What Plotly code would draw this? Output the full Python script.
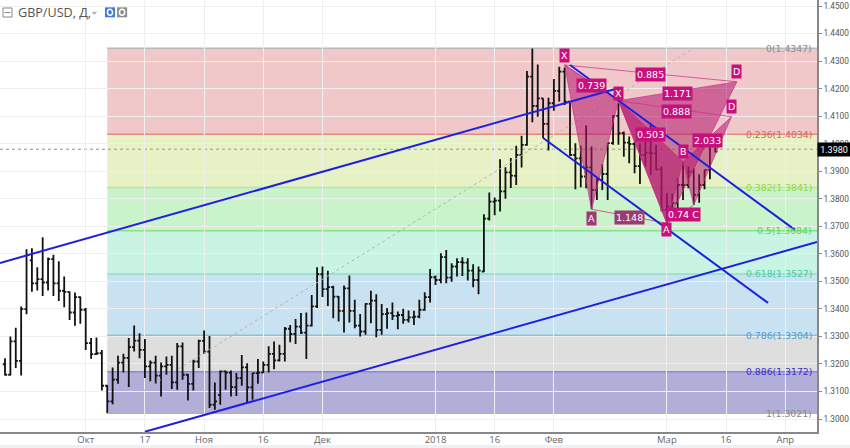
import plotly.graph_objects as go

bar_index = list(range(1, 134))
highs = [1.3221,1.3300,1.3332,1.3409,1.3617,1.3620,1.3551,1.3660,1.3587,1.3597,
1.3573,1.3518,1.3463,1.3460,1.3445,1.3403,1.3294,1.3296,1.3251,1.3124,
1.3187,1.3230,1.3237,1.3294,1.3340,1.3312,1.3291,1.3213,1.3230,1.3205,
1.3227,1.3230,1.3276,1.3278,1.3164,1.3215,1.3288,1.3322,1.3302,1.3133,
1.3176,1.3176,1.3176,1.3167,1.3233,1.3203,1.3167,1.3218,1.3209,1.3264,
1.3282,1.3270,1.3334,1.3342,1.3363,1.3385,1.3387,1.3451,1.3551,1.3554,
1.3539,1.3484,1.3447,1.3485,1.3521,1.3433,1.3382,1.3421,1.3466,1.3453,
1.3418,1.3403,1.3423,1.3391,1.3401,1.3394,1.3393,1.3433,1.3461,1.3545,
1.3521,1.3602,1.3614,1.3566,1.3584,1.3588,1.3584,1.3562,1.3554,1.3744,
1.3823,1.3805,1.3944,1.3915,1.3948,1.3993,1.4029,1.4264,1.4346,1.4288,
1.4165,1.4167,1.4235,1.4280,1.4277,1.4149,1.4002,1.3993,1.4066,1.3990,
1.3875,1.3925,1.4002,1.4104,1.4147,1.4044,1.4026,1.4008,1.4002,1.4008,
1.4071,1.3996,1.3917,1.3820,1.3818,1.3875,1.3935,1.3917,1.3911,1.3889,
1.3905,1.3992,1.3992]
lows = [1.3158,1.3158,1.3185,1.3158,1.3381,1.3462,1.3467,1.3447,1.3467,1.3447,
1.3429,1.3406,1.3360,1.3339,1.3346,1.3251,1.3219,1.3233,1.3104,1.3021,
1.3054,1.3128,1.3169,1.3116,1.3245,1.3221,1.3149,1.3137,1.3128,1.3082,
1.3161,1.3109,1.3106,1.3143,1.3067,1.3104,1.3185,1.3237,1.3040,1.3034,
1.3052,1.3106,1.3082,1.3084,1.3121,1.3060,1.3070,1.3128,1.3167,1.3169,
1.3181,1.3209,1.3209,1.3279,1.3273,1.3309,1.3218,1.3336,1.3403,1.3443,
1.3411,1.3366,1.3354,1.3314,1.3351,1.3330,1.3300,1.3306,1.3348,1.3297,
1.3306,1.3328,1.3360,1.3326,1.3346,1.3351,1.3342,1.3366,1.3393,1.3423,
1.3487,1.3493,1.3493,1.3499,1.3518,1.3520,1.3503,1.3479,1.3453,1.3534,
1.3721,1.3740,1.3754,1.3800,1.3839,1.3850,1.3914,1.3993,1.4078,1.4098,
1.4020,1.3975,1.4120,1.4153,1.4141,1.3956,1.3835,1.3842,1.3838,1.3762,
1.3796,1.3832,1.3796,1.3996,1.3996,1.3953,1.3929,1.3893,1.3854,1.3917,
1.3887,1.3905,1.3754,1.3711,1.3754,1.3760,1.3796,1.3838,1.3778,1.3786,
1.3835,1.3871,1.3968]
opens = [1.3199,1.3161,1.3282,1.3211,1.3399,1.3576,1.3493,1.3508,1.3496,1.3581,
1.3493,1.3466,1.3462,1.3387,1.3443,1.3397,1.3276,1.3236,1.3239,1.3121,
1.3064,1.3143,1.3205,1.3222,1.3261,1.3285,1.3251,1.3191,1.3205,1.3158,
1.3191,1.3197,1.3133,1.3264,1.3161,1.3128,1.3209,1.3284,1.3245,1.3052,
1.3088,1.3173,1.3169,1.3116,1.3149,1.3188,1.3115,1.3167,1.3169,1.3197,
1.3237,1.3213,1.3237,1.3328,1.3309,1.3336,1.3314,1.3339,1.3409,1.3526,
1.3472,1.3479,1.3445,1.3393,1.3475,1.3393,1.3339,1.3318,1.3418,1.3430,
1.3324,1.3381,1.3385,1.3375,1.3378,1.3360,1.3369,1.3372,1.3397,1.3443,
1.3515,1.3505,1.3588,1.3514,1.3554,1.3570,1.3568,1.3539,1.3505,1.3536,
1.3728,1.3790,1.3793,1.3827,1.3896,1.3883,1.3959,1.3996,1.4244,1.4137,
1.4165,1.4072,1.4147,1.4192,1.4262,1.4153,1.3959,1.3947,1.3881,1.3914,
1.3832,1.3869,1.3890,1.4002,1.4101,1.4038,1.4004,1.3999,1.3919,1.3959,
1.3968,1.3965,1.3907,1.3760,1.3772,1.3784,1.3850,1.3850,1.3899,1.3814,
1.3850,1.3905,1.3992]
closes = [1.3161,1.3282,1.3211,1.3399,1.3596,1.3493,1.3508,1.3496,1.3581,1.3493,
1.3466,1.3462,1.3387,1.3443,1.3397,1.3276,1.3236,1.3239,1.3121,1.3064,
1.3143,1.3205,1.3222,1.3261,1.3285,1.3251,1.3191,1.3205,1.3158,1.3191,
1.3197,1.3133,1.3264,1.3161,1.3128,1.3209,1.3284,1.3245,1.3052,1.3064,
1.3173,1.3169,1.3116,1.3149,1.3188,1.3115,1.3167,1.3169,1.3197,1.3237,
1.3213,1.3237,1.3328,1.3309,1.3336,1.3314,1.3339,1.3409,1.3526,1.3472,
1.3479,1.3445,1.3393,1.3475,1.3393,1.3339,1.3318,1.3418,1.3430,1.3324,
1.3381,1.3385,1.3375,1.3378,1.3360,1.3369,1.3372,1.3397,1.3443,1.3515,
1.3505,1.3588,1.3514,1.3554,1.3570,1.3568,1.3539,1.3505,1.3539,1.3728,
1.3790,1.3793,1.3827,1.3896,1.3884,1.3959,1.3996,1.4244,1.4137,1.4165,
1.4072,1.4147,1.4192,1.4262,1.4153,1.3959,1.3947,1.3881,1.3914,1.3832,
1.3869,1.3890,1.4002,1.4101,1.4038,1.4004,1.3999,1.3919,1.3959,1.3968,
1.3965,1.3907,1.3760,1.3772,1.3784,1.3850,1.3850,1.3899,1.3814,1.3850,
1.3905,1.3992,1.3971]

x_ticks = [16, 27, 38, 49, 60, 81, 92, 103, 124, 135, 146]
x_labels = ["Окт", "17", "Ноя", "16", "Дек", "2018", "16", "Фев", "Мар", "16", "Апр"]
y_ticks = [1.30,1.31,1.32,1.33,1.34,1.35,1.36,1.37,1.38,1.39,1.40,1.41,1.42,1.43,1.44,1.45]
X_RANGE = [0.07, 151.9]
Y_RANGE = [1.2953, 1.4522]

fib_start, fib_end = 20, 151.9
fib_levels = [1.4347, 1.4034, 1.3841, 1.3684, 1.3527, 1.3304, 1.3172, 1.3021]
fib_names = ["0(1.4347)", "0.236(1.4034)", "0.382(1.3841)", "0.5(1.3684)",
             "0.618(1.3527)", "0.786(1.3304)", "0.886(1.3172)", "1(1.3021)"]
fib_fills = ["rgba(205,72,75,.3)", "rgba(172,212,65,.3)", "rgba(75,215,75,.3)", "rgba(75,215,162,.3)",
             "rgba(75,158,208,.3)", "rgba(145,145,145,.3)", "rgba(99,93,177,.5)"]
fib_lines = ["#b9b9b9", "#e08a80", "#b4e89c", "#85e285", "#92dcc2", "#92bfd8", "#8d88dc", "#b0b0c0"]
fib_text = ["#8a8a8a", "#d8645a", "#90d650", "#50d850", "#45cfa5", "#4a9fd0", "#3a2ccc", "#8a8a8a"]

diag_x, diag_y = [20, 129], [1.3021, 1.4347]
last_price = 1.3980

blue_lines = [
    ([0.07, 114.4], [1.3567, 1.4199]),
    ([27, 151.9], [1.2954, 1.3643]),
    ([106, 147.8], [1.4286, 1.3687]),
    ([101, 142.8], [1.4021, 1.3422]),
]

p1_x = [105, 110, 115, 124, 137]
p1_y = [1.4286, 1.3762, 1.4156, 1.3711, 1.4225]
p2_x = [115, 124, 127, 129, 136]
p2_y = [1.4156, 1.3711, 1.3935, 1.3778, 1.4098]

labels = [
    ("X", 105, 1.4321, "#c6107c"), ("0.739", 110, 1.4210, "#c6107c"), ("X", 115, 1.4183, "#c6107c"),
    ("0.885", 121, 1.4250, "#c6107c"), ("1.171", 126, 1.4181, "#c6107c"), ("0.888", 125.7, 1.4117, "#c6107c"),
    ("0.503", 121, 1.4034, "#c6107c"), ("2.033", 131.5, 1.4012, "#c6107c"), ("B", 127, 1.3973, "#c6107c"),
    ("A", 110, 1.3729, "#9c3a72"), ("1.148", 117, 1.3732, "#9c3a72"), ("0.74 C", 127, 1.3744, "#c6107c"),
    ("A", 124, 1.3687, "#c6107c"), ("D", 137, 1.4262, "#c6107c"), ("D", 136, 1.4137, "#c6107c"),
]

FONT = "Open Sans, sans-serif"
fig = go.Figure()

shapes = []
for i, fill in enumerate(fib_fills):
    shapes.append(dict(type="rect", xref="x", yref="y", x0=fib_start, x1=fib_end,
                       y0=fib_levels[i + 1], y1=fib_levels[i], fillcolor=fill,
                       line_width=0, layer="below"))
for lvl, col in zip(fib_levels, fib_lines):
    shapes.append(dict(type="line", xref="x", yref="y", x0=fib_start, x1=fib_end,
                       y0=lvl, y1=lvl, line=dict(color=col, width=1.5), layer="below"))
shapes.append(dict(type="line", xref="paper", yref="y", x0=0, x1=1, y0=last_price, y1=last_price,
                   line=dict(color="#8c8c8c", width=1, dash="dot"), layer="below"))
shapes += [
    dict(type="rect", xref="paper", yref="paper", x0=0, x1=1.05, y0=-0.037, y1=-0.03,
         fillcolor="#eef0f5", line_width=0),
    dict(type="rect", xref="paper", yref="paper", x0=0.0037, x1=0.0147, y0=0.9606, y1=0.9815,
         fillcolor="white", line=dict(color="#8a8a8a", width=1)),
    dict(type="line", xref="paper", yref="paper", x0=0.0055, x1=0.013, y0=0.971, y1=0.971,
         line=dict(color="#8a8a8a", width=1)),
    dict(type="path", xref="paper", yref="paper", path="M 0.112 0.973 L 0.119 0.973 L 0.1155 0.965 Z",
         fillcolor="#b5b5b5", line_width=0),
    dict(type="rect", xref="paper", yref="paper", x0=0.1285, x1=0.1408, y0=0.96, y1=0.983,
         fillcolor="#3f7ad6", line_width=0),
    dict(type="circle", xref="paper", yref="paper", x0=0.1315, x1=0.1378, y0=0.9645, y1=0.9785,
         fillcolor="#3f7ad6", line=dict(color="white", width=1.5)),
    dict(type="rect", xref="paper", yref="paper", x0=0.1433, x1=0.1556, y0=0.96, y1=0.983,
         fillcolor="#8d8d8d", line_width=0),
    dict(type="circle", xref="paper", yref="paper", x0=0.1463, x1=0.1526, y0=0.9645, y1=0.9785,
         fillcolor="#8d8d8d", line=dict(color="white", width=1.5)),
]

fig.add_trace(go.Scatter(x=diag_x, y=diag_y, mode="lines",
                         line=dict(color="#b4b4b4", width=1, dash="dot"), hoverinfo="skip"))

PINK = "rgba(180,20,110,.55)"
THIN = "rgba(205,50,135,.75)"
for xs, ys in ((p1_x, p1_y), (p2_x, p2_y)):
    fig.add_trace(go.Scatter(x=xs[:3] + [xs[0]], y=ys[:3] + [ys[0]], mode="lines", fill="toself",
                             fillcolor=PINK, line=dict(color=THIN, width=1), hoverinfo="skip"))
    fig.add_trace(go.Scatter(x=xs[2:] + [xs[2]], y=ys[2:] + [ys[2]], mode="lines", fill="toself",
                             fillcolor=PINK, line=dict(color=THIN, width=1), hoverinfo="skip"))
    for a, b in ((0, 2), (1, 3), (0, 4)):
        fig.add_trace(go.Scatter(x=[xs[a], xs[b]], y=[ys[a], ys[b]], mode="lines",
                                 line=dict(color=THIN, width=1), hoverinfo="skip"))

fig.add_trace(go.Ohlc(x=bar_index, open=opens, high=highs, low=lows, close=closes, tickwidth=0.4,
                      increasing=dict(line=dict(color="#111111", width=1.8)),
                      decreasing=dict(line=dict(color="#111111", width=1.8))))

for xs, ys in blue_lines:
    fig.add_trace(go.Scatter(x=xs, y=ys, mode="lines", line=dict(color="#1f1fe0", width=2), hoverinfo="skip"))

annotations = []
for name, lvl, col in zip(fib_names, fib_levels, fib_text):
    annotations.append(dict(xref="paper", yref="y", x=0.9965, y=lvl, text=name, showarrow=False,
                            xanchor="right", yanchor="middle", font=dict(color=col, size=9.3, family="DejaVu Sans")))
for text, x, y, col in labels:
    annotations.append(dict(x=x, y=y, text=text, showarrow=False, bgcolor=col, borderpad=1,
                            font=dict(color="white", size=9.5, family="DejaVu Sans")))
annotations.append(dict(xref="paper", yref="paper", x=0.0195, y=0.9705, text="GBP/USD, Д,", showarrow=False,
                        xanchor="left", yanchor="middle", font=dict(color="#555555", size=12.6, family=FONT)))
annotations.append(dict(xref="paper", yref="y", x=1.0, y=last_price, text="1.3980", showarrow=False,
                        xanchor="left", yanchor="middle", bgcolor="#000000", borderpad=0, width=32, height=13,
                        align="center", font=dict(color="white", size=9, family="Roboto")))

fig.update_layout(
    width=850, height=448, margin=dict(l=0, r=33, t=0, b=16),
    paper_bgcolor="white", plot_bgcolor="white", showlegend=False,
    shapes=shapes, annotations=annotations,
    xaxis=dict(range=X_RANGE, tickmode="array", tickvals=x_ticks, ticktext=x_labels, automargin=False,
               showgrid=True, gridcolor="#efefef", gridwidth=1, zeroline=False,
               showline=True, linecolor="#888888", linewidth=1.5, ticks="", rangeslider=dict(visible=False),
               ticklabelstandoff=-2,
               tickfont=dict(size=9.5, color="#666666", family=FONT)),
    yaxis=dict(range=Y_RANGE, side="right", tickmode="array", tickvals=y_ticks, automargin=False,
               ticktext=[f"{v:.4f}" for v in y_ticks],
               showgrid=True, gridcolor="#efefef", gridwidth=1, zeroline=False,
               showline=True, linecolor="#888888", linewidth=1.5, ticks="outside", ticklen=3,
               tickcolor="#888888", tickfont=dict(size=8.3, color="#555555", family="Roboto")),
)

fig.write_html("out.html", post_script="document.body.style.margin='0';document.body.style.overflow='hidden';",
               config={"displayModeBar": False})
